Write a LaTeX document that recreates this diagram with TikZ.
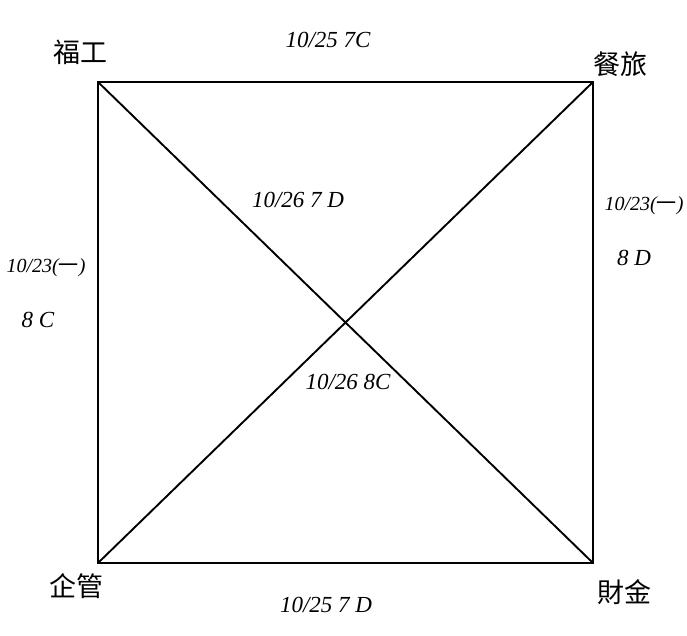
\documentclass[tikz,border=0pt]{standalone}
\usepackage{fontspec}
\setmainfont{Liberation Serif}
\newfontfamily\cjk{Noto Sans CJK SC}
\begin{document}
\begin{tikzpicture}[x=1pt,y=-1pt,
  corner/.style={inner sep=0pt,font=\cjk\fontsize{27}{30}\selectfont},
  lbl/.style={inner sep=0pt,font=\itshape\fontsize{23}{26}\selectfont},
  slbl/.style={inner sep=0pt,font=\itshape\fontsize{20}{24}\selectfont},
  edge/.style={line width=1.9pt}]
\useasboundingbox (0,0) rectangle (687,636);
\coordinate (tl) at (98,82);
\coordinate (tr) at (593,82);
\coordinate (bl) at (98,563);
\coordinate (br) at (593,563);
\draw[edge] (tl) -- (tr) -- (br) -- (bl) -- cycle;
\draw[edge] (tl) -- (br);
\draw[edge] (tr) -- (bl);
\node[corner] (fg) at (80,52) {福工};
\node[corner] (cl) at (620,64) {餐旅};
\node[corner] (qg) at (76,586) {企管};
\node[corner] (cj) at (624,592) {財金};
\node[lbl] (t) at (328,40) {10/25 7C};
\node[lbl] (b) at (326,605) {10/25 7 D};
\node[slbl] (l1) at (46,268) {10/23({\cjk 一})};
\node[lbl] (l2) at (38,320) {8 C};
\node[slbl] (r1) at (644,206) {10/23({\cjk 一})};
\node[lbl] (r2) at (634,258) {8 D};
\node[lbl] (d1) at (298,200) {10/26 7 D};
\node[lbl] (d2) at (348,382) {10/26 8C};
\end{tikzpicture}
\end{document}
